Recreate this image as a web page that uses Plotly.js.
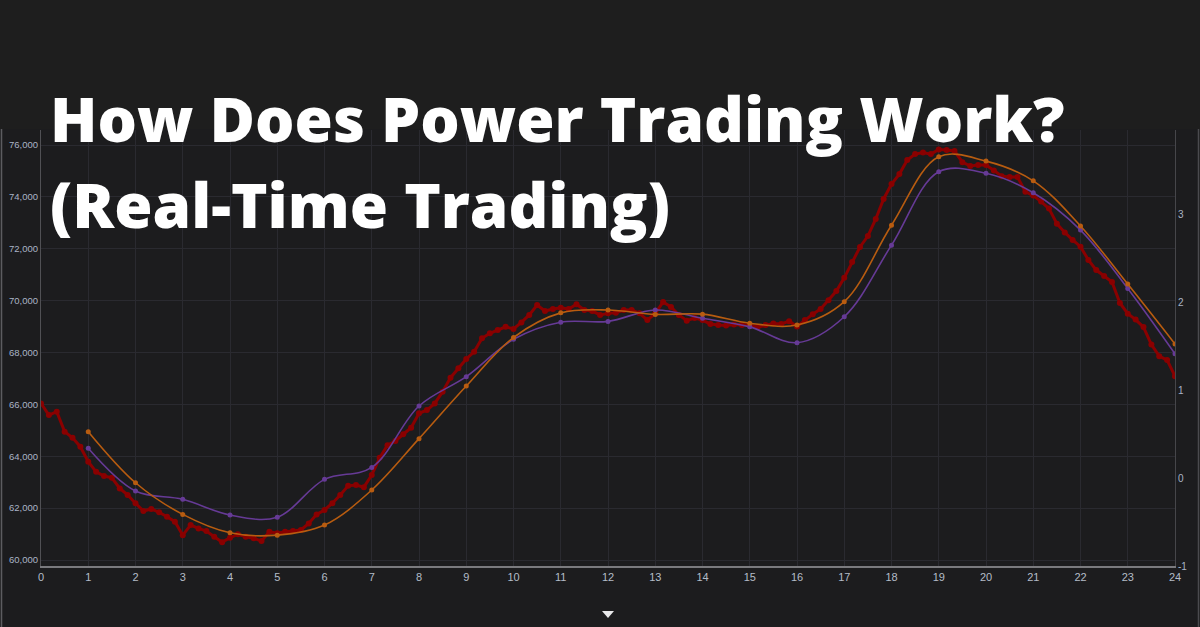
<!DOCTYPE html>
<html>
<head>
<meta charset="utf-8">
<script src="https://cdn.plot.ly/plotly-3.0.1.min.js"></script>
<style>
html,body{margin:0;padding:0;background:#1c1c1e;}
#chart{width:1200px;height:627px;}
</style>
</head>
<body>
<div id="chart"></div>
<script>
// ---- data ----
var titleLines = ["How Does Power Trading Work?", "(Real-Time Trading)"];
var hourTicks = [0,1,2,3,4,5,6,7,8,9,10,11,12,13,14,15,16,17,18,19,20,21,22,23,24];
var forecastHours = [1,2,3,4,5,6,7,8,9,10,11,12,13,14,15,16,17,18,19,20,21,22,23,24];
var orangeForecast = [64950,62980,61760,61050,60960,61350,62700,64680,66710,68580,69530,69640,
                      69470,69480,69130,69060,69960,72910,75550,75380,74620,72880,70640,68330];
var purpleForecast = [64310,62660,62340,61735,61650,63110,63570,65940,67070,68510,69170,69200,
                      69640,69320,68990,68380,69380,72140,74970,74910,74160,72720,70470,67950];
var realTimeStepMinutes = 10;
var realTimeLoad = [
  66040,65590,65720,64950,64710,64370,
  63790,63400,63240,63170,62760,62510,
  62190,61890,61970,61840,61670,61480,
  60960,61350,61220,61120,60900,60690,
  60860,60990,60900,60840,60730,61090,
  61030,61090,61120,61160,61410,61760,
  61930,62190,62510,62860,62890,62810,
  63280,63940,64430,64590,64850,65100,
  65660,65780,66040,66490,67030,67390,
  67750,68030,68550,68740,68870,68990,
  68910,69160,69450,69830,69600,69680,
  69730,69680,69860,69640,69600,69450,
  69510,69530,69640,69640,69510,69250,
  69510,69950,69760,69450,69230,69330,
  69250,69100,69060,69040,69080,69060,
  69060,68980,69060,69120,69100,69210,
  69000,69250,69480,69680,70020,70370,
  70880,71490,72070,72490,73150,73920,
  74500,74880,75420,75650,75710,75650,
  75830,75810,75770,75340,75190,75230,
  75230,75020,74800,74770,74770,74200,
  74050,73820,73550,72970,72630,72340,
  72080,71570,71180,70950,70720,69910,
  69500,69270,68980,68310,67860,67710,
  67090
];
var rightTicks = [-1,0,1,2,3];
var leftTicks = [60000,62000,64000,66000,68000,70000,72000,74000,76000];

// sample times (hours) of the real-time series
var realTimeHours = realTimeLoad.map(function(_, i){ return i*realTimeStepMinutes/60; });

var traces = [
  {x: realTimeHours, y: realTimeLoad, type:'scatter', mode:'lines+markers',
   line:{color:'#8a0000', width:3}, marker:{color:'#8a0000', size:6}, hoverinfo:'skip'},
  {x: forecastHours, y: purpleForecast, type:'scatter', mode:'lines+markers',
   line:{color:'#663a96', width:1.6, shape:'spline'}, marker:{color:'#663a96', size:5}, hoverinfo:'skip'},
  {x: forecastHours, y: orangeForecast, type:'scatter', mode:'lines+markers',
   line:{color:'#b85c10', width:1.6, shape:'spline'}, marker:{color:'#b85c10', size:5}, hoverinfo:'skip'},
  {x:[0], y:[0], yaxis:'y2', type:'scatter', mode:'markers', marker:{opacity:0}, hoverinfo:'skip'}
];

var W = 1134, H = 436, L = 41, T = 130;
function px(x){ return (x - L)/W; }
function py(y){ return (T + H - y)/H; }

var titleFont = {family:'Open Sans, sans-serif', size:62, color:'#ffffff', weight:800};

var layout = {
  width:1200, height:627,
  margin:{l:L, r:1200-L-W, t:T, b:627-T-H, pad:0},
  paper_bgcolor:'#1c1c1e', plot_bgcolor:'#1c1c1e',
  showlegend:false,
  font:{family:'Liberation Sans, Arial, sans-serif', color:'#b4bcc8', size:10},
  xaxis:{range:[0,24], tickvals:hourTicks, ticktext:hourTicks.map(String),
    showgrid:true, gridcolor:'#2a2a30', gridwidth:1, zeroline:false,
    showline:true, linecolor:'#7a7a7e', linewidth:2, ticks:'', ticklen:0,
    tickfont:{size:11, color:'#b4bcc8'}},
  yaxis:{range:[59770,76580], tickvals:leftTicks, tickformat:',d',
    showgrid:true, gridcolor:'#2a2a30', gridwidth:1, zeroline:false,
    showline:true, linecolor:'#505054', linewidth:1, ticks:'', ticklen:0,
    tickfont:{size:9.5, color:'#aab4c6'}},
  yaxis2:{overlaying:'y', side:'right', range:[-1,3.96], tickvals:rightTicks,
    ticktext:['-1','0','1','2','3'],
    showgrid:false, zeroline:false, showline:true, linecolor:'#46464a', linewidth:1,
    ticks:'', tickfont:{size:10, color:'#aab4c6'}},
  shapes:[
    {type:'rect', xref:'paper', yref:'paper', x0:px(0), x1:px(1200), y0:py(129), y1:py(0),
     fillcolor:'#1e1e1e', line:{width:0}, layer:'below'},
    {type:'line', xref:'paper', yref:'paper', x0:px(1.5), x1:px(1.5), y0:py(129), y1:py(627),
     line:{color:'#5c5c60', width:1.5}},
    {type:'line', xref:'paper', yref:'paper', x0:px(1198.5), x1:px(1198.5), y0:py(129), y1:py(627),
     line:{color:'#4a4a4e', width:1.5}},
    {type:'path', xref:'paper', yref:'paper',
     path:'M '+px(602)+' '+py(611)+' L '+px(614)+' '+py(611)+' L '+px(608)+' '+py(618)+' Z',
     fillcolor:'#e8e8ea', line:{width:0}}
  ],
  annotations:[
    {xref:'paper', yref:'paper', x:px(48), y:py(74), xanchor:'left', yanchor:'top',
     align:'left', showarrow:false, text:titleLines[0], font:titleFont},
    {xref:'paper', yref:'paper', x:px(48), y:py(160), xanchor:'left', yanchor:'top',
     align:'left', showarrow:false, text:titleLines[1], font:titleFont}
  ]
};

Plotly.newPlot('chart', traces, layout, {staticPlot:true, displayModeBar:false});
</script>
</body>
</html>
